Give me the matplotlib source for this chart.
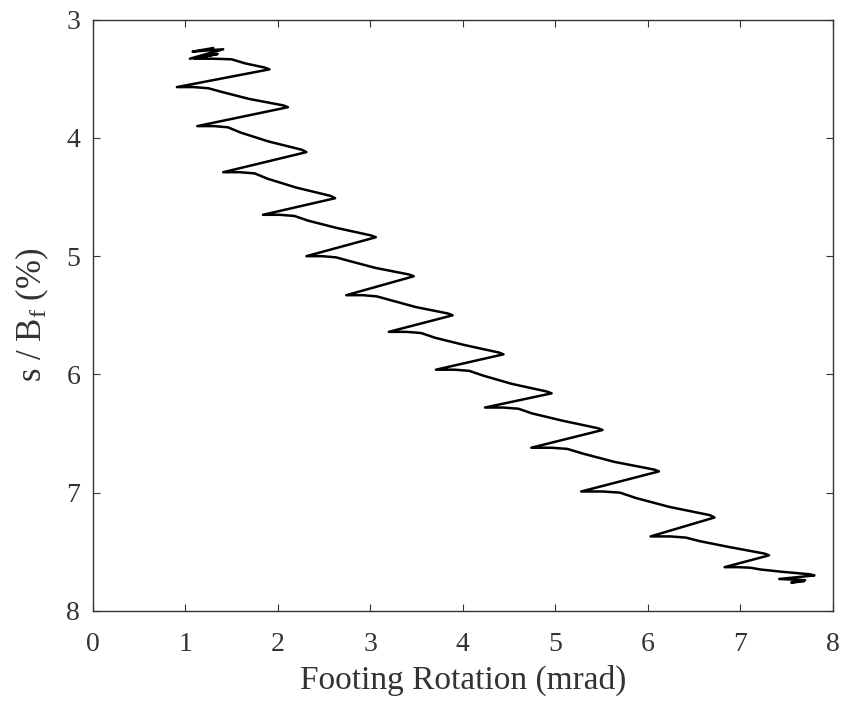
import matplotlib
matplotlib.use("Agg")
import matplotlib.pyplot as plt

plt.rcParams['font.family'] = ['Liberation Serif', 'DejaVu Serif']
plt.rcParams['mathtext.fontset'] = 'custom'
plt.rcParams['mathtext.rm'] = 'Liberation Serif'
plt.rcParams['mathtext.it'] = 'Liberation Serif:italic'

# Footing rotation (mrad) and normalized settlement s/Bf (%)
rotation = [
    1.30, 1.08, 1.41, 1.05, 1.35, 1.10, 1.30, 1.50, 1.65, 1.86, 1.91,
    0.91, 1.09, 1.25, 1.39, 1.69, 2.06, 2.11,
    1.13, 1.31, 1.46, 1.60, 1.90, 2.26, 2.31,
    1.41, 1.59, 1.75, 1.89, 2.20, 2.57, 2.62,
    1.84, 2.02, 2.18, 2.33, 2.63, 3.01, 3.06,
    2.31, 2.48, 2.63, 2.77, 3.06, 3.42, 3.47,
    2.74, 2.92, 3.07, 3.21, 3.49, 3.84, 3.89,
    3.20, 3.39, 3.55, 3.70, 4.01, 4.39, 4.44,
    3.71, 3.91, 4.07, 4.22, 4.53, 4.91, 4.96,
    4.24, 4.43, 4.60, 4.75, 5.07, 5.46, 5.51,
    4.74, 4.96, 5.13, 5.30, 5.64, 6.07, 6.12,
    5.28, 5.51, 5.70, 5.87, 6.23, 6.67, 6.72,
    6.03, 6.24, 6.41, 6.56, 6.88, 7.26, 7.31,
    6.83, 6.98, 7.11, 7.22, 7.46, 7.75, 7.80,
    7.42, 7.70, 7.55, 7.68,
]
settlement = [
    3.24, 3.27, 3.25, 3.33, 3.29, 3.33, 3.33, 3.335, 3.37, 3.405, 3.42,
    3.57, 3.57, 3.58, 3.61, 3.67, 3.725, 3.74,
    3.90, 3.90, 3.91, 3.955, 4.03, 4.10, 4.12,
    4.29, 4.29, 4.30, 4.345, 4.42, 4.49, 4.51,
    4.65, 4.65, 4.66, 4.70, 4.76, 4.825, 4.84,
    5.00, 5.00, 5.01, 5.04, 5.10, 5.155, 5.17,
    5.33, 5.33, 5.34, 5.37, 5.43, 5.485, 5.50,
    5.64, 5.64, 5.65, 5.69, 5.75, 5.815, 5.83,
    5.96, 5.96, 5.97, 6.01, 6.08, 6.145, 6.16,
    6.28, 6.28, 6.29, 6.33, 6.39, 6.455, 6.47,
    6.62, 6.62, 6.63, 6.67, 6.74, 6.805, 6.82,
    6.99, 6.99, 7.00, 7.045, 7.12, 7.19, 7.21,
    7.37, 7.37, 7.38, 7.41, 7.46, 7.515, 7.53,
    7.63, 7.63, 7.635, 7.65, 7.67, 7.69, 7.70,
    7.73, 7.74, 7.76, 7.75,
]

xticks = [0, 1, 2, 3, 4, 5, 6, 7, 8]
yticks = [3, 4, 5, 6, 7, 8]

fig = plt.figure(figsize=(8.43, 7.03), dpi=100)
ax = fig.add_axes([0.110, 0.131, 0.878, 0.841])
ax.plot(rotation, settlement, color='black', lw=1.8, solid_joinstyle='round')

ax.set_xlim(0, 8)
ax.set_ylim(8, 3)
ax.set_xticks(xticks)
ax.set_yticks(yticks)
ax.tick_params(direction='in', length=5, width=0.8, top=True, right=True,
               labelsize=20, colors='#333333', labelcolor='#333333')
ax.tick_params(axis='x', pad=15)
ax.tick_params(axis='y', pad=9)
for s in ax.spines.values():
    s.set_linewidth(1.0)
    s.set_color('#333333')

ax.set_xlabel('Footing Rotation (mrad)', fontsize=24, color='#333333', labelpad=6)
ax.set_ylabel(r's / B$_{\rm f}$ (%)', fontsize=25, color='#333333', labelpad=11)

fig.savefig('out.png', dpi=100)
